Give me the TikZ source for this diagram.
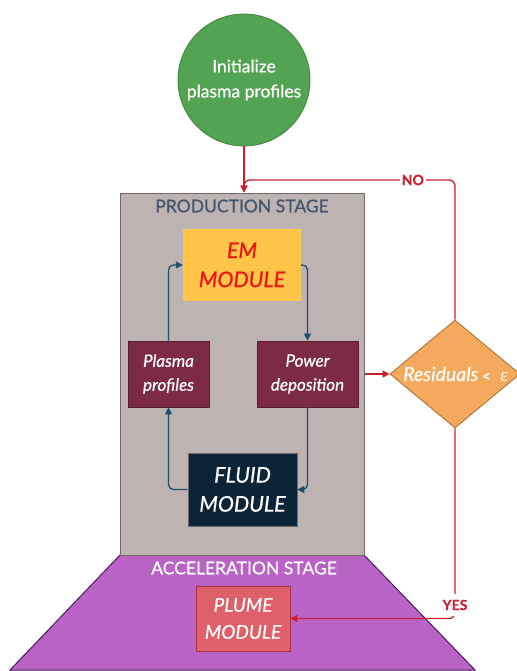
\documentclass[tikz,border=0pt]{standalone}
\usepackage{fontspec}
\setmainfont{Lato}
\newfontfamily\latomed{Lato}[FakeBold=0.6]
\newfontfamily\serifgr{Liberation Serif}
\usetikzlibrary{shapes.geometric,arrows.meta}
\definecolor{cgreen}{HTML}{52A452}
\definecolor{cgreenD}{HTML}{3E7E3E}
\definecolor{cgray}{HTML}{BDB3B3}
\definecolor{cgrayD}{HTML}{6E6868}
\definecolor{cslate}{HTML}{44546A}
\definecolor{cem}{HTML}{FFC548}
\definecolor{cemtxt}{HTML}{F01010}
\definecolor{cmar}{HTML}{7D2A47}
\definecolor{cmarD}{HTML}{5A1C32}
\definecolor{cnavy}{HTML}{0C2438}
\definecolor{cteal}{HTML}{1E4E6B}
\definecolor{cred}{HTML}{C8202F}
\definecolor{corange}{HTML}{F5A95C}
\definecolor{corangeD}{HTML}{A86A2C}
\definecolor{cpurple}{HTML}{B963C6}
\definecolor{cpurpleD}{HTML}{4A1A5A}
\definecolor{cplume}{HTML}{E0606A}
\definecolor{cplumeD}{HTML}{A83040}
\tikzset{
  modbox/.style={rectangle, inner sep=0pt, align=center, font=\latomed\itshape\fontsize{17}{24}\selectfont, text=white},
  maroonbox/.style={modbox, fill=cmar, draw=cmarD, line width=0.8pt, minimum width=81pt, minimum height=66pt},
  bigmod/.style={modbox, font=\latomed\itshape\fontsize{21.5}{29}\selectfont},
  tealarrow/.style={draw=cteal, line width=1.3pt, rounded corners=5pt, -{Triangle[length=7pt,width=7pt]}},
  redarrow/.style={draw=cred, line width=1.3pt, rounded corners=6pt, -{Triangle[length=7pt,width=7pt]}},
  redlbl/.style={fill=white, text=cred, font=\latomed\bfseries\fontsize{14}{16}\selectfont, inner sep=2pt},
  stagetitle/.style={font=\latomed\fontsize{17.5}{20}\selectfont},
}
\begin{document}
\begin{tikzpicture}[x=1pt,y=-1pt]
\useasboundingbox (0,0) rectangle (516,671);
% acceleration stage trapezoid
\path[fill=cpurple, draw=cpurpleD, line width=1pt] (120,555) -- (364,555) -- (475,670) -- (10,670) -- cycle;
% production stage
\node[rectangle, fill=cgray, draw=cgrayD, line width=1pt, minimum width=244pt, minimum height=362pt, inner sep=0pt] (prod) at (242,374) {};
\node[stagetitle, text=cslate] (prodlbl) at (242,206) {PRODUCTION STAGE};
\node[stagetitle, text=white] (acclbl) at (244,568) {ACCELERATION STAGE};
% init circle
\node[circle, fill=cgreen, draw=cgreenD, line width=0.8pt, minimum size=132pt, inner sep=0pt, align=center, text=white, font=\latomed\fontsize{17.5}{25}\selectfont] (init) at (244,80) {Initialize\\plasma profiles};
% modules
\node[bigmod, fill=cem, text=cemtxt, minimum width=118pt, minimum height=72pt] (em) at (242,265) {EM\\MODULE};
\node[maroonbox] (pp) at (168.5,374) {Plasma\\profiles};
\node[maroonbox, minimum width=101pt] (pd) at (307.5,374) {Power\\deposition};
\node[bigmod, fill=cnavy, draw=cgrayD, line width=0.6pt, minimum width=109pt, minimum height=73pt] (fl) at (242.5,489.5) {FLUID\\MODULE};
\node[modbox, font=\latomed\itshape\fontsize{19}{27}\selectfont, fill=cplume, draw=cplumeD, line width=0.8pt, minimum width=94pt, minimum height=65pt] (pl) at (243,618.5) {PLUME\\MODULE};
% decision
\node[diamond, fill=corange, draw=corangeD, line width=0.8pt, minimum width=130pt, minimum height=108pt, inner sep=0pt] (dia) at (455,374) {};
\node[text=white, font=\latomed\itshape\fontsize{19.5}{24}\selectfont, anchor=base west, inner sep=0pt] (dialbl) at (403,381) {Residuals};
\node[text=white, font=\latomed\bfseries\fontsize{14}{16}\selectfont, anchor=base, inner sep=0pt] (dialt) at (486,381) {<};
\node[text=white, font=\serifgr\fontsize{19}{22}\selectfont, anchor=base, inner sep=0pt] (diaeps) at (504,381) {ε};
% teal loop
\draw[tealarrow] (pp.north) |- (em.west);
\draw[tealarrow] (em.east) -| (pd.north);
\draw[tealarrow] (pd.south) |- (fl.east);
\draw[tealarrow] (fl.west) -| (pp.south);
% red arrows
\coordinate (nob) at (244,180);
\draw[redarrow] (init.south) -- (init.south |- prod.north);
\draw[redarrow] (dia.north) |- node[pos=0.6, redlbl] (nolbl) {NO} (nob) -- (nob |- prod.north);
\draw[redarrow] (prod.east |- dia.west) -- (dia.west);
\draw[redarrow] (dia.south) |- (pl.east);
\node[redlbl, inner sep=0pt, minimum height=22pt, minimum width=34pt] (yeslbl) at (455,605) {YES};
\end{tikzpicture}
\end{document}
